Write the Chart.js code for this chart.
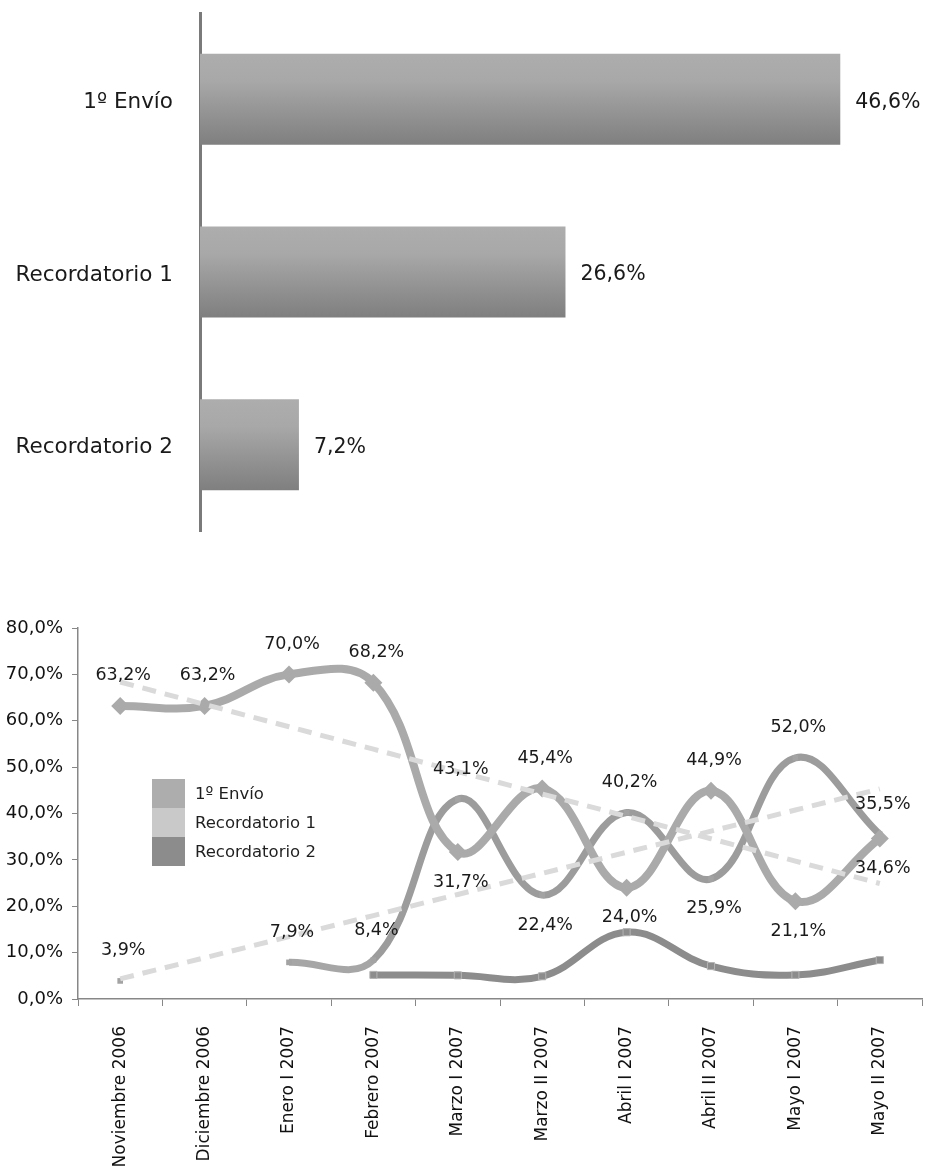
<!DOCTYPE html>
<html><head><meta charset="utf-8">
<script src="https://cdn.jsdelivr.net/npm/chart.js@4.4.1/dist/chart.umd.min.js"></script>
<style>
html,body{margin:0;padding:0;background:#fff;}
body{width:925px;height:1169px;position:relative;overflow:hidden;}
#barBox{position:absolute;left:0;top:0;width:925px;height:545px;}
#lineBox{position:absolute;left:0;top:600px;width:925px;height:569px;}
#legend{position:absolute;left:152px;top:779px;font-family:'DejaVu Sans';font-size:16.5px;color:#1f1f1f;}
#legend .row{display:flex;align-items:center;height:29px;}
#legend .sw{width:33px;height:29px;margin-right:10px;}
</style></head><body>
<div id="barBox"><canvas id="barChart"></canvas></div>
<div id="lineBox"><canvas id="lineChart"></canvas></div>
<div id="legend"></div>
<script>
// ---------- DATA ----------
const barLabels = ['1º Envío', 'Recordatorio 1', 'Recordatorio 2'];
const barValues = [46.6, 26.6, 7.2];

const periods = ['Noviembre 2006', 'Diciembre 2006', 'Enero I 2007', 'Febrero 2007', 'Marzo I 2007',
                 'Marzo II 2007', 'Abril I 2007', 'Abril II 2007', 'Mayo I 2007', 'Mayo II 2007'];
const envio = [63.2, 63.2, 70.0, 68.2, 31.7, 45.4, 24.0, 44.9, 21.1, 34.6];
const recordatorio1 = [3.9, null, 7.9, 8.4, 43.1, 22.4, 40.2, 25.9, 52.0, 35.5];
const recordatorio2 = [null, null, null, 5.2, 5.1, 4.9, 14.4, 7.1, 5.2, 8.4];
const seriesNames = ['1º Envío', 'Recordatorio 1', 'Recordatorio 2'];
const yTickValues = [0, 10, 20, 30, 40, 50, 60, 70, 80];

// ---------- helpers ----------
const fmt = v => v.toFixed(1).replace('.', ',') + '%';
function linearTrend(values) {
  const pts = values.map((v, i) => [i + 1, v]).filter(p => p[1] !== null);
  const n = pts.length;
  const mx = pts.reduce((s, p) => s + p[0], 0) / n;
  const my = pts.reduce((s, p) => s + p[1], 0) / n;
  let sxy = 0, sxx = 0;
  pts.forEach(p => { sxy += (p[0] - mx) * (p[1] - my); sxx += (p[0] - mx) ** 2; });
  const b = sxy / sxx, a = my - b * mx;
  return values.map((_, i) => a + b * (i + 1));
}

Chart.defaults.font.family = 'DejaVu Sans';
Chart.defaults.color = '#1a1a1a';

// ---------- BAR CHART ----------
const BAR_FRACTION = 0.527;
const barLabelPlugin = {
  id: 'barLabels',
  afterDatasetsDraw(chart) {
    const c = chart.ctx;
    c.save();
    c.font = '20.5px "DejaVu Sans"';
    c.fillStyle = '#1a1a1a';
    c.textAlign = 'left';
    c.textBaseline = 'middle';
    chart.getDatasetMeta(0).data.forEach((el, i) => {
      c.fillText(fmt(barValues[i]), el.x + 15, el.y + 3);
    });
    c.restore();
  }
};

new Chart(document.getElementById('barChart'), {
  type: 'bar',
  data: {
    labels: barLabels,
    datasets: [{
      data: barValues,
      categoryPercentage: BAR_FRACTION,
      barPercentage: 1,
      borderWidth: 0,
      backgroundColor: (c) => {
        const ch = c.chart, ys = ch.scales.y;
        if (!ch.chartArea || !ys || c.dataIndex === undefined) return '#9a9a9a';
        const center = ys.getPixelForValue(c.dataIndex);
        const half = ys.height / barLabels.length * BAR_FRACTION / 2;
        const g = ch.ctx.createLinearGradient(0, center - half, 0, center + half);
        g.addColorStop(0, '#adadad');
        g.addColorStop(0.3, '#a8a8a8');
        g.addColorStop(1, '#7f7f7f');
        return g;
      }
    }]
  },
  options: {
    indexAxis: 'y',
    responsive: true, maintainAspectRatio: false, animation: false,
    layout: { autoPadding: false, padding: { top: 13, bottom: 14, left: 0, right: 38 } },
    plugins: { legend: { display: false }, tooltip: { enabled: false } },
    scales: {
      x: { display: false, min: 0, max: 50 },
      y: {
        grid: { display: false },
        border: { display: true, color: '#7a7a7a', width: 3 },
        ticks: { font: { size: 21.5 }, color: '#1a1a1a', padding: 19, labelOffset: 3 },
        afterFit(s) { s.width = 200; s.paddingTop = 0; s.paddingBottom = 0; }
      }
    }
  },
  plugins: [barLabelPlugin]
});

// ---------- LINE CHART ----------
const labelAlign = [
  ['top', 'top', 'top', 'top', 'bottom', 'top', 'bottom', 'top', 'bottom', 'bottom'],
  ['top', null, 'top', 'top', 'top', 'bottom', 'top', 'bottom', 'top', 'top']
];
const pointLabelPlugin = {
  id: 'pointLabels',
  afterDatasetsDraw(chart) {
    const c = chart.ctx;
    c.save();
    c.font = '17.5px "DejaVu Sans"';
    c.fillStyle = '#1a1a1a';
    c.textAlign = 'center';
    c.textBaseline = 'middle';
    [0, 1].forEach(di => {
      const values = chart.data.datasets[di].data;
      chart.getDatasetMeta(di).data.forEach((el, i) => {
        if (values[i] === null) return;
        const dy = labelAlign[di][i] === 'bottom' ? 30 : -30;
        c.fillText(fmt(values[i]), el.x + 3, el.y + dy);
      });
    });
    c.restore();
  }
};

const colors = ['#aaaaaa', '#9c9c9c', '#8c8c8c'];
const legendColors = ['#adadad', '#c9c9c9', '#8c8c8c'];

new Chart(document.getElementById('lineChart'), {
  type: 'line',
  data: {
    labels: periods,
    datasets: [
      {
        label: seriesNames[0], data: envio, order: 1,
        borderColor: colors[0], backgroundColor: colors[0], borderWidth: 8,
        tension: 0.4, pointStyle: 'rectRot', pointRadius: 9, pointBorderWidth: 0,
        pointBackgroundColor: colors[0]
      },
      {
        label: seriesNames[1], data: recordatorio1, order: 1,
        borderColor: colors[1], backgroundColor: colors[1], borderWidth: 7,
        tension: 0.4, spanGaps: false, pointStyle: 'rect', pointRadius: 4, pointBorderWidth: 0,
        pointBackgroundColor: '#a3a3a3',
        segment: { borderColor: s => s.p0DataIndex === 2 ? '#a6a6a6' : undefined }
      },
      {
        label: seriesNames[2], data: recordatorio2, order: 1,
        borderColor: colors[2], backgroundColor: colors[2], borderWidth: 7,
        tension: 0.4, pointStyle: 'rect', pointRadius: 5, pointBorderWidth: 1,
        pointBorderColor: '#b4b4b4', pointBackgroundColor: colors[2]
      },
      {
        label: 'trend1', data: linearTrend(envio), order: 0,
        borderColor: '#dadada', borderWidth: 5, borderDash: [14, 9], tension: 0, pointRadius: 0
      },
      {
        label: 'trend2', data: linearTrend(recordatorio1), order: 0,
        borderColor: '#dadada', borderWidth: 5, borderDash: [14, 9], tension: 0, pointRadius: 0
      }
    ]
  },
  options: {
    responsive: true, maintainAspectRatio: false, animation: false,
    layout: { autoPadding: false, padding: { top: 28, bottom: 0, left: 0, right: 3 } },
    plugins: { legend: { display: false }, tooltip: { enabled: false } },
    scales: {
      x: {
        offset: true,
        grid: { display: true, drawOnChartArea: false, drawTicks: true, tickLength: 7, color: '#878787', offset: true },
        border: { display: true, color: '#878787', width: 1.5 },
        ticks: { minRotation: 90, maxRotation: 90, font: { size: 17 }, color: '#111', padding: 20, autoSkip: false },
        afterFit(s) { s.height = 170; s.paddingLeft = 0; s.paddingRight = 0; }
      },
      y: {
        min: 0, max: 80,
        afterBuildTicks(s) { s.ticks = yTickValues.map(v => ({ value: v })); },
        grid: { display: true, drawOnChartArea: false, drawTicks: true, tickLength: 6, color: '#878787' },
        border: { display: true, color: '#878787', width: 1.5 },
        ticks: { font: { size: 18 }, color: '#111', padding: 9, callback: v => fmt(v) },
        afterFit(s) { s.width = 78; s.paddingTop = 0; s.paddingBottom = 0; }
      }
    }
  },
  plugins: [pointLabelPlugin]
});

// HTML legend (inside plot area)
const lg = document.getElementById('legend');
seriesNames.forEach((n, i) => {
  const r = document.createElement('div'); r.className = 'row';
  const sw = document.createElement('div'); sw.className = 'sw'; sw.style.background = legendColors[i];
  const t = document.createElement('span'); t.textContent = n;
  r.appendChild(sw); r.appendChild(t); lg.appendChild(r);
});
</script>
</body></html>
